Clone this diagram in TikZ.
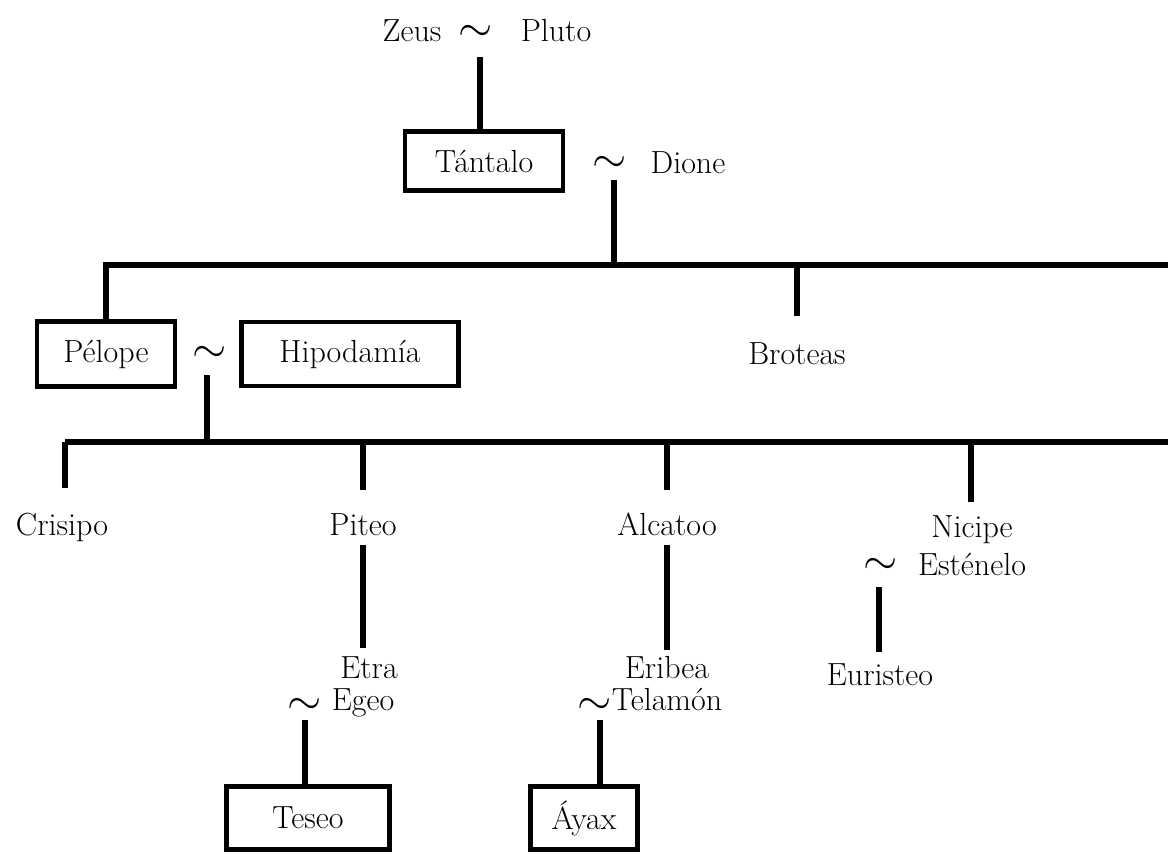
\documentclass[tikz,border=0pt]{standalone}
\usepackage{fix-cm}
\begin{document}
\begin{tikzpicture}[x=0.75pt,y=-0.75pt,
  lbl/.style={font=\fontsize{24}{26}\selectfont, inner sep=0pt, anchor=base},
  til/.style={font=\fontsize{33}{35}\selectfont, inner sep=0pt},
  pbox/.style={draw, line width=3.5pt, inner sep=0pt, font=\fontsize{24}{26}\selectfont},
  ln/.style={line width=4pt}]
\useasboundingbox (0,0) rectangle (1168,854);
% generation 1
\node[lbl] (zeus) at (412,41) {Zeus};
\node[til] (t1) at (476,33) {$\sim$};
\node[lbl] (pluto) at (556,41) {Pluto};
\node[pbox, minimum width=118.5pt, minimum height=44pt] (tantalo) at (484,161) {Tántalo};
\node[til] (t2) at (610,164) {$\sim$};
\node[lbl] (dione) at (688,173) {Dione};
\coordinate (c1) at (480,57);
\draw[ln] (c1) -- (c1 |- tantalo.north);
\coordinate (c2) at (614,180);
\coordinate (j1) at (614,265);
\coordinate (h1R) at (1168,265);
\draw[ln] (c2) -- (j1);
% generation 2
\node[pbox, minimum width=103.5pt, minimum height=49pt] (pelope) at (106,354) {Pélope};
\node[til] (t3) at (210,354) {$\sim$};
\node[pbox, minimum width=163pt, minimum height=48pt] (hipo) at (350,354) {Hipodamía};
\node[lbl] (broteas) at (797,364) {Broteas};
\draw[ln] (pelope.north) -- (pelope.north |- h1R) -- (h1R);
\coordinate (bro) at (797,316);
\draw[ln] (bro |- h1R) -- (bro);
\coordinate (c3) at (207,375);
\coordinate (j2) at (207,442);
\coordinate (h2L) at (65,442);
\coordinate (h2R) at (1168,442);
\draw[ln] (c3) -- (j2);
\draw[ln] (h2L) -- (h2R);
% generation 3
\node[lbl] (crisipo) at (62,535) {Crisipo};
\node[lbl] (piteo) at (363,535) {Piteo};
\node[lbl] (alcatoo) at (667,535) {Alcatoo};
\node[lbl] (nicipe) at (972,537) {Nicipe};
\coordinate (cr) at (65,488);
\coordinate (pi) at (363,490);
\coordinate (al) at (667,490);
\coordinate (ni) at (971,502);
\draw[ln] (cr |- h2L) -- (cr);
\draw[ln] (pi |- h2L) -- (pi);
\draw[ln] (al |- h2L) -- (al);
\draw[ln] (ni |- h2L) -- (ni);
% Piteo line
\node[lbl] (etra) at (369,678) {Etra};
\node[til] (t4) at (305,706) {$\sim$};
\node[lbl] (egeo) at (363,710) {Egeo};
\coordinate (p1) at (363,545);
\coordinate (p2) at (363,648);
\draw[ln] (p1) -- (p2);
\coordinate (c4) at (305,720);
\node[pbox, minimum width=122pt, minimum height=47pt] (teseo) at (308,818) {Teseo};
\draw[ln] (c4) -- (c4 |- teseo.north);
% Alcatoo line
\node[lbl] (eribea) at (667,678) {Eribea};
\node[til] (t5) at (595,706) {$\sim$};
\node[lbl] (telamon) at (667,710) {Telamón};
\coordinate (a1) at (667,545);
\coordinate (a2) at (667,650);
\draw[ln] (a1) -- (a2);
\coordinate (c5) at (600,720);
\node[pbox, minimum width=80pt, minimum height=47pt] (ayax) at (584,818) {Áyax};
\draw[ln] (c5) -- (c5 |- ayax.north);
% Nicipe line
\node[lbl] (estenelo) at (972,575) {Esténelo};
\node[til] (t6) at (881,566) {$\sim$};
\coordinate (c6) at (879,587);
\coordinate (c7) at (879,652);
\draw[ln] (c6) -- (c7);
\node[lbl] (euristeo) at (880,685) {Euristeo};
\end{tikzpicture}
\end{document}
